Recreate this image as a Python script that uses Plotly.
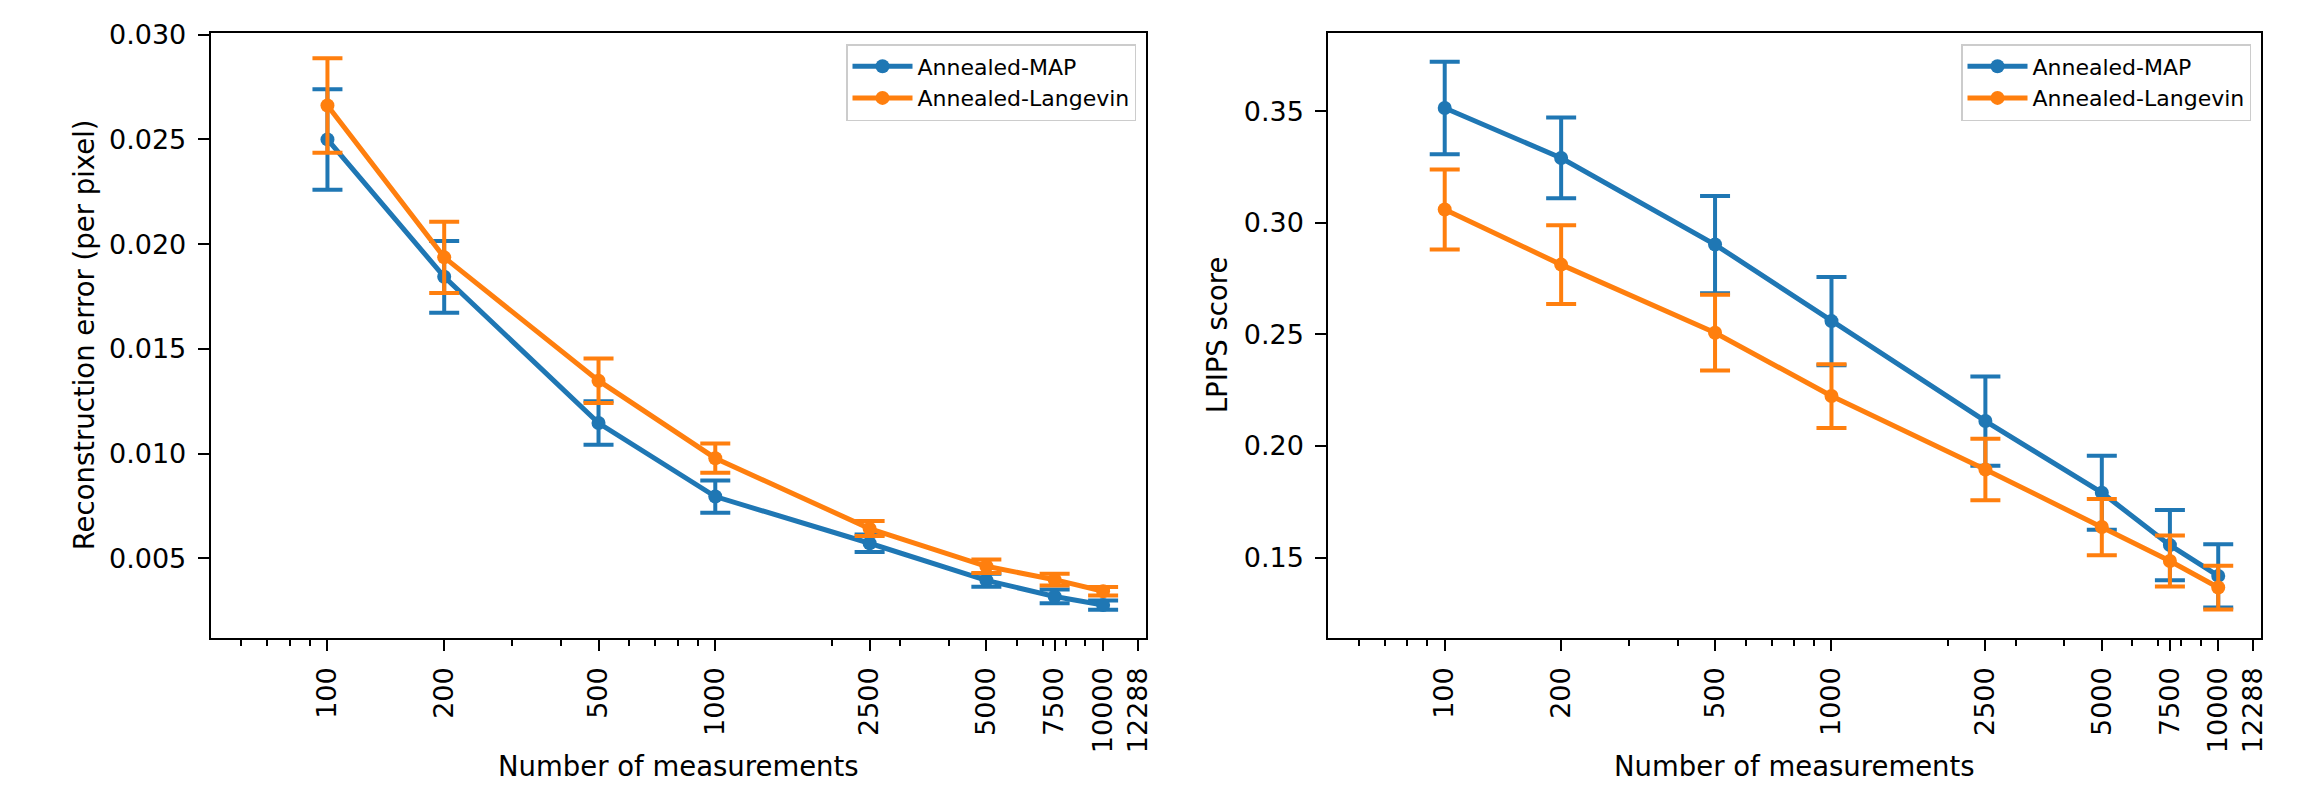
import math
import plotly.graph_objects as go

# ---------------- data ----------------
measurements = [100, 200, 500, 1000, 2500, 5000, 7500, 10000]
tick_vals = [100, 200, 500, 1000, 2500, 5000, 7500, 10000, 12288]
tick_text = ["100", "200", "500", "1000", "2500", "5000", "7500", "10000", "12288"]
minor_vals = [60, 70, 80, 90, 300, 400, 600, 700, 800, 900,
              2000, 3000, 4000, 6000, 7000, 8000, 9000]

# Reconstruction error (per pixel)
rec_map = [0.0250, 0.01844, 0.01146, 0.00795, 0.00572, 0.00395, 0.00318, 0.00277]
rec_map_err = [0.0024, 0.00171, 0.00104, 0.00077, 0.00042, 0.00031, 0.00033, 0.00022]
rec_lan = [0.02662, 0.01937, 0.01348, 0.00978, 0.00642, 0.00462, 0.00398, 0.00343]
rec_lan_err = [0.00226, 0.00170, 0.00106, 0.00070, 0.00036, 0.00032, 0.00028, 0.00020]

# LPIPS score
lp_map = [0.3515, 0.3291, 0.2903, 0.2560, 0.2112, 0.1791, 0.1556, 0.1418]
lp_map_err = [0.0207, 0.0181, 0.0218, 0.0198, 0.0200, 0.0166, 0.0157, 0.0142]
lp_lan = [0.3060, 0.2813, 0.2508, 0.2224, 0.1895, 0.1637, 0.1485, 0.1366]
lp_lan_err = [0.0179, 0.0176, 0.0170, 0.0143, 0.0138, 0.0126, 0.0114, 0.0098]

series_names = ["Annealed-MAP", "Annealed-Langevin"]
colors = ["#1f77b4", "#ff7f0e"]

W, H = 2302, 785
FONT = "DejaVu Sans"

fig = go.Figure()


def add_series(y, err, name, color, xa, ya, legend):
    fig.add_trace(go.Scatter(
        x=measurements, y=y, name=name, mode="lines+markers",
        line=dict(color=color, width=5),
        marker=dict(color=color, size=14, symbol="circle"),
        error_y=dict(type="data", array=err, visible=True,
                     color=color, thickness=4, width=15),
        xaxis=xa, yaxis=ya, legend=legend,
    ))


add_series(rec_map, rec_map_err, series_names[0], colors[0], "x", "y", "legend")
add_series(rec_lan, rec_lan_err, series_names[1], colors[1], "x", "y", "legend")
add_series(lp_map, lp_map_err, series_names[0], colors[0], "x2", "y2", "legend2")
add_series(lp_lan, lp_lan_err, series_names[1], colors[1], "x2", "y2", "legend2")

# pixel geometry of the two panels
L_x0, L_x1 = 210.7, 1146.0
R_x0, R_x1 = 1328.3, 2261.0
P_top, P_bot = 33.0, 637.5
ydom = [1 - P_bot / H, 1 - P_top / H]

xrange_log = [math.log10(50), math.log10(12900)]

TICK_FONT = dict(family=FONT, size=27, color="black")

common_x = dict(
    type="log", range=xrange_log, automargin=False,
    tickmode="array", tickvals=tick_vals, ticktext=tick_text,
    tickangle=-90, ticks="outside", ticklen=11, tickwidth=2, tickcolor="black",
    minor=dict(tickmode="array", tickvals=minor_vals, ticks="outside",
               ticklen=6, tickwidth=1.5, tickcolor="black", showgrid=False),
    showline=True, linecolor="black", linewidth=2, mirror=True,
    showgrid=False, zeroline=False,
    tickfont=TICK_FONT,
    ticklabelstandoff=6,
)
common_y = dict(
    automargin=False,
    ticks="outside", ticklen=11, tickwidth=2, tickcolor="black",
    showline=True, linecolor="black", linewidth=2, mirror=True,
    showgrid=False, zeroline=False,
    tickfont=TICK_FONT,
    ticklabelstandoff=6,
)

legend_common = dict(
    y=1 - 44 / H, yanchor="top", xanchor="right",
    bgcolor="rgba(255,255,255,0.8)", bordercolor="#cccccc", borderwidth=1.5,
    font=dict(family=FONT, size=22, color="black"), itemwidth=60,
    tracegroupgap=0,
)

fig.update_layout(
    width=W, height=H,
    margin=dict(l=0, r=0, t=0, b=0, pad=0, autoexpand=False),
    paper_bgcolor="white", plot_bgcolor="white",
    font=dict(family=FONT, color="black"),
    xaxis=dict(domain=[L_x0 / W, L_x1 / W], anchor="y", **common_x),
    yaxis=dict(domain=ydom, anchor="x", range=[0.00122, 0.03008],
               tickmode="array", tickvals=[0.005, 0.010, 0.015, 0.020, 0.025, 0.030],
               tickformat=".3f", **common_y),
    xaxis2=dict(domain=[R_x0 / W, R_x1 / W], anchor="y2", **common_x),
    yaxis2=dict(domain=ydom, anchor="x2", range=[0.1142, 0.3851],
                tickmode="array", tickvals=[0.15, 0.20, 0.25, 0.30, 0.35],
                tickformat=".2f", **common_y),
    legend=dict(x=(L_x1 - 10) / W, **legend_common),
    legend2=dict(x=(R_x1 - 10) / W, **legend_common),
    showlegend=True,
)

title_font = dict(family=FONT, size=27.5, color="black")
ymid = (ydom[0] + ydom[1]) / 2
fig.add_annotation(text="Reconstruction error (per pixel)", xref="paper", yref="paper",
                   x=84 / W, y=ymid, xanchor="center", yanchor="middle",
                   textangle=-90, showarrow=False, font=title_font)
fig.add_annotation(text="LPIPS score", xref="paper", yref="paper",
                   x=1217 / W, y=ymid, xanchor="center", yanchor="middle",
                   textangle=-90, showarrow=False, font=title_font)
fig.add_annotation(text="Number of measurements", xref="paper", yref="paper",
                   x=(L_x0 + L_x1) / 2 / W, y=1 / H, xanchor="center", yanchor="bottom",
                   showarrow=False, font=title_font)
fig.add_annotation(text="Number of measurements", xref="paper", yref="paper",
                   x=(R_x0 + R_x1) / 2 / W, y=1 / H, xanchor="center", yanchor="bottom",
                   showarrow=False, font=title_font)

fig.write_html(
    "out.html",
    config={"displayModeBar": False},
    post_script="document.body.style.margin='0';document.body.style.overflow='hidden';",
)
